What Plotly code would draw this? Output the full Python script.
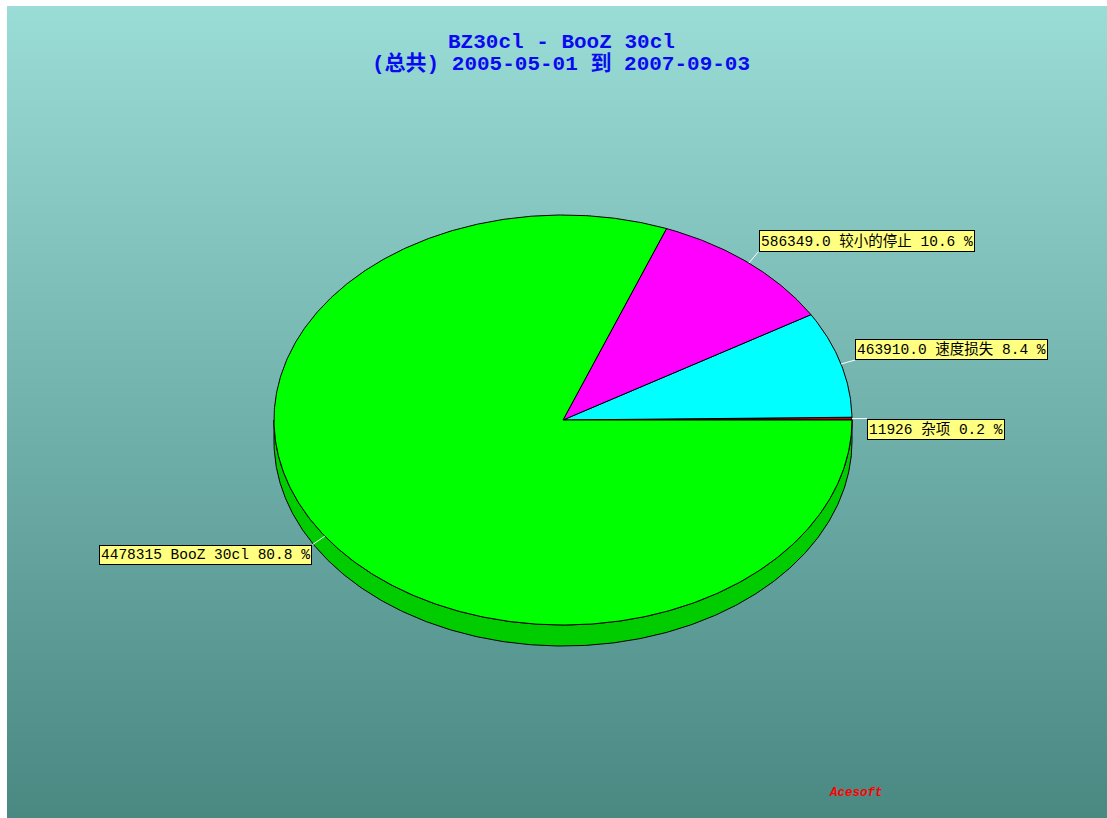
import numpy as np
import plotly.graph_objects as go

# Slices, listed counter-clockwise from the 3 o'clock position
categories = ["杂项", "速度损失", "较小的停止", "BooZ 30cl"]
values = [11926, 463910.0, 586349.0, 4478315]
value_labels = ["11926", "463910.0", "586349.0", "4478315"]

title_line1 = "BZ30cl - BooZ 30cl"
title_line2 = "(总共) 2005-05-01 到 2007-09-03"
credit = "Acesoft"

# Styling
top_colors = ["#D00000", "#00FFFF", "#FF00FF", "#00FF00"]
side_colors = ["#A00000", "#00CCCC", "#CC00CC", "#00CC00"]
bg_top, bg_bottom = "#9ADCD6", "#4A8882"
label_font = "Liberation Mono, Noto Sans CJK SC, monospace"

# Pie geometry in plot units (1 unit = 1 px), centred at the origin
RX, RY, DEPTH = 289, 205, 21
LEADER = 15
X_RANGE = [-556, 544]
Y_RANGE = [-398, 414]

vals = np.array(values, dtype=float)
frac = vals / vals.sum()
edges = np.concatenate([[0.0], np.cumsum(frac)]) * 2 * np.pi

fig = go.Figure()

# vertical gradient backdrop
fig.add_trace(go.Heatmap(
    x=X_RANGE, y=Y_RANGE, z=[[0, 0], [1, 1]],
    colorscale=[[0, bg_bottom], [1, bg_top]], zsmooth="best",
    showscale=False, hoverinfo="skip",
))


def arc(a0, a1, dy=0.0):
    n = max(2, int(np.degrees(a1 - a0) * 2) + 2)
    t = np.linspace(a0, a1, n)
    return RX * np.cos(t), RY * np.sin(t) + dy


# side walls (only the front half, between 180 and 360 degrees)
for i in range(len(values)):
    lo = max(edges[i], np.pi)
    hi = min(edges[i + 1], 2 * np.pi)
    if hi <= lo:
        continue
    xt, yt = arc(lo, hi)
    xb, yb = arc(lo, hi, -DEPTH)
    xs = np.concatenate([xt, xb[::-1], xt[:1]])
    ys = np.concatenate([yt, yb[::-1], yt[:1]])
    fig.add_trace(go.Scatter(
        x=xs, y=ys, mode="lines", fill="toself",
        fillcolor=side_colors[i], line=dict(color="black", width=1),
        hoverinfo="skip",
    ))

# top faces
for i in range(len(values)):
    xa, ya = arc(edges[i], edges[i + 1])
    xs = np.concatenate([[0], xa, [0]])
    ys = np.concatenate([[0], ya, [0]])
    fig.add_trace(go.Scatter(
        x=xs, y=ys, mode="lines", fill="toself",
        fillcolor=top_colors[i], line=dict(color="black", width=1),
        hoverinfo="skip",
    ))

# leader lines and value labels
annotations = []
for i in range(len(values)):
    mid = (edges[i] + edges[i + 1]) / 2
    ex, ey = RX * np.cos(mid), RY * np.sin(mid)
    px, py = ex + LEADER * np.cos(mid), ey + LEADER * np.sin(mid)
    fig.add_trace(go.Scatter(
        x=[ex, px], y=[ey, py], mode="lines",
        line=dict(color="white", width=1), hoverinfo="skip",
    ))
    text = f"{value_labels[i]} {categories[i]} {frac[i] * 100:.1f} %"
    annotations.append(dict(
        x=px, y=py, xref="x", yref="y", text=text, showarrow=False,
        xanchor="left" if np.cos(mid) > 0 else "right",
        yanchor="bottom" if np.sin(mid) > 0.05 else "top",
        font=dict(family=label_font, size=14.5, color="black"),
        bgcolor="#FFFF80", bordercolor="black", borderwidth=1, borderpad=1,
    ))

# title lines
for txt, y in [(title_line1, 378), (title_line2, 356)]:
    annotations.append(dict(
        x=-2, y=y, xref="x", yref="y", text=f"<b>{txt}</b>", showarrow=False,
        xanchor="center", yanchor="middle",
        font=dict(family=label_font, size=21, color="#0A0AF0"),
    ))

annotations.append(dict(
    x=293, y=-373, xref="x", yref="y", text=f"<i><b>{credit}</b></i>",
    showarrow=False, xanchor="center", yanchor="middle",
    font=dict(family=label_font, size=12.5, color="#FF0000"),
))

fig.update_layout(
    width=1107, height=818,
    margin=dict(l=7, r=0, t=6, b=0),
    paper_bgcolor="white", plot_bgcolor="white",
    showlegend=False,
    annotations=annotations,
    xaxis=dict(range=X_RANGE, visible=False, fixedrange=True),
    yaxis=dict(range=Y_RANGE, visible=False, fixedrange=True),
)

fig.write_html("out.html")
